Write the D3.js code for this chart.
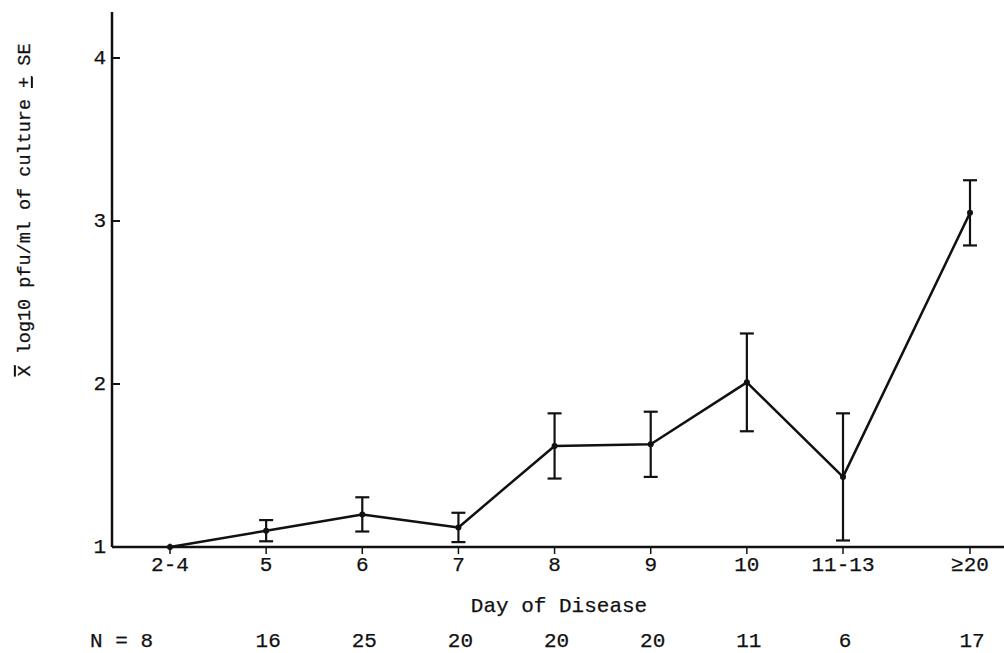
<!DOCTYPE html>
<html>
<head>
<meta charset="utf-8">
<script src="https://cdn.jsdelivr.net/npm/d3@7"></script>
<style>
  body { margin: 0; background: #fff; }
  text { font-family: "Liberation Mono", "DejaVu Sans Mono", monospace; fill: #111; stroke: #111; stroke-width: 0.25; }
</style>
</head>
<body>
<div id="chart"></div>
<script>

// Data.

var days = ['2-4', '5', '6', '7', '8', '9', '10', '11-13', '\u226520'];
var means = [1.00, 1.10, 1.20, 1.12, 1.62, 1.63, 2.01, 1.43, 3.05];
var se = [0.02, 0.065, 0.105, 0.09, 0.20, 0.20, 0.30, 0.39, 0.20];
var counts = [8, 16, 25, 20, 20, 20, 11, 6, 17];
var yTicks = [1, 2, 3, 4];

var width = 1004,
  height = 653;

var svg = d3.select('#chart')
  .append('svg')
  .attr('width', width)
  .attr('height', height);

var x0 = 112,
  y0 = 547;

// Index scale; the last group sits a bit further out on the original.
var xScale = d3.scaleLinear()
  .domain([0, days.length - 2, days.length - 1])
  .range([170, 843, 970]);

var yScale = d3.scaleLinear()
  .domain([1, 4])
  .range([y0, 58]);

var ink = '#111';

// Axes.

svg.append('line')
  .attr('x1', x0).attr('x2', x0)
  .attr('y1', 12).attr('y2', y0)
  .attr('stroke', ink).attr('stroke-width', 2.5);

svg.append('line')
  .attr('x1', x0).attr('x2', width)
  .attr('y1', y0).attr('y2', y0)
  .attr('stroke', ink).attr('stroke-width', 2.5);

// Y ticks.

var yt = svg.selectAll('.ytick')
  .data(yTicks)
  .enter()
  .append('g')
  .attr('class', 'ytick')
  .attr('transform', function(d) { return 'translate(0,' + yScale(d) + ')'; });

yt.filter(function(d) { return d > 1; })
  .append('line')
  .attr('x1', x0).attr('x2', x0 + 8)
  .attr('stroke', ink).attr('stroke-width', 2);

yt.append('text')
  .attr('x', x0 - 6)
  .attr('dy', '0.3em')
  .attr('text-anchor', 'end')
  .attr('font-size', 21)
  .text(function(d) { return d; });

// X ticks and labels.

var xt = svg.selectAll('.xtick')
  .data(days)
  .enter()
  .append('g')
  .attr('class', 'xtick')
  .attr('transform', function(d, i) { return 'translate(' + xScale(i) + ',0)'; });

xt.append('line')
  .attr('y1', y0).attr('y2', y0 + 7)
  .attr('stroke', ink).attr('stroke-width', 1.5);

xt.append('text')
  .attr('y', 571)
  .attr('text-anchor', 'middle')
  .attr('font-size', 21)
  .text(function(d) { return d; });

svg.append('text')
  .attr('x', 559)
  .attr('y', 612)
  .attr('text-anchor', 'middle')
  .attr('font-size', 21)
  .text('Day of Disease');

// N row.

svg.selectAll('.nlab')
  .data(counts)
  .enter()
  .append('text')
  .attr('class', 'nlab')
  .attr('x', function(d, i) { return i === 0 ? xScale(i) - 17 : xScale(i) + 2; })
  .attr('y', 647)
  .attr('text-anchor', function(d, i) { return i === 0 ? 'end' : 'middle'; })
  .attr('font-size', 21)
  .text(function(d, i) { return i === 0 ? 'N = ' + d : d; });

// Y title.

var ylab = svg.append('text')
  .attr('transform', 'translate(30,210) rotate(-90)')
  .attr('text-anchor', 'middle')
  .attr('font-size', 18.5);

ylab.append('tspan').style('text-decoration', 'overline').text('X');
ylab.append('tspan').text(' log10 pfu/ml of culture ');
ylab.append('tspan').style('text-decoration', 'underline').text('+');
ylab.append('tspan').text(' SE');

// Mean line.

var line = d3.line()
  .x(function(d, i) { return xScale(i); })
  .y(function(d) { return yScale(d); });

svg.append('path')
  .datum(means)
  .attr('d', line)
  .attr('fill', 'none')
  .attr('stroke', ink)
  .attr('stroke-width', 2.5)
  .attr('stroke-linejoin', 'round');

// Error bars.

var bars = svg.selectAll('.err')
  .data(means)
  .enter()
  .append('g')
  .attr('class', 'err')
  .attr('stroke', ink)
  .attr('stroke-width', 2.2);

bars.append('line')
  .attr('x1', function(d, i) { return xScale(i); })
  .attr('x2', function(d, i) { return xScale(i); })
  .attr('y1', function(d, i) { return yScale(d + se[i]); })
  .attr('y2', function(d, i) { return yScale(d - se[i]); });

bars.filter(function(d, i) { return i > 0; })
  .append('line')
  .attr('x1', function(d, i) { return xScale(i + 1) - 7; })
  .attr('x2', function(d, i) { return xScale(i + 1) + 7; })
  .attr('y1', function(d, i) { return yScale(d + se[i + 1]); })
  .attr('y2', function(d, i) { return yScale(d + se[i + 1]); });

bars.filter(function(d, i) { return i > 0; })
  .append('line')
  .attr('x1', function(d, i) { return xScale(i + 1) - 7; })
  .attr('x2', function(d, i) { return xScale(i + 1) + 7; })
  .attr('y1', function(d, i) { return yScale(d - se[i + 1]); })
  .attr('y2', function(d, i) { return yScale(d - se[i + 1]); });

// Points.

svg.selectAll('.pt')
  .data(means)
  .enter()
  .append('circle')
  .attr('class', 'pt')
  .attr('cx', function(d, i) { return xScale(i); })
  .attr('cy', function(d) { return yScale(d); })
  .attr('r', 3)
  .attr('fill', ink);

</script>
</body>
</html>
